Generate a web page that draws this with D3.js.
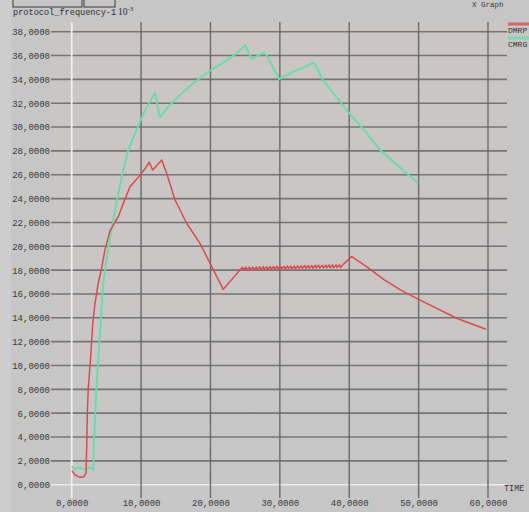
<!DOCTYPE html>
<html>
<head>
<meta charset="utf-8">
<script src="https://cdn.jsdelivr.net/npm/d3@7"></script>
<style>
  html, body { margin: 0; padding: 0; background: #c6c6c6; }
  svg { display: block; }
</style>
</head>
<body>
<svg id="chart" width="529" height="512"></svg>
<script>
// Series names and colours
const seriesNames = ["DMRP", "CMRG"];
const seriesColors = ["#de4a4a", "#66dda8"];

// Axis ticks (time on x, protocol frequency in units of 10^-3 on y)
const xTicks = [0, 10, 20, 30, 40, 50, 60];
const yTicks = [0, 2, 4, 6, 8, 10, 12, 14, 16, 18, 20, 22, 24, 26, 28, 30, 32, 34, 36, 38];

// DMRP: [time, frequency]
const dmrp = [
  [0.04, 1.17], [0.48, 0.81], [1.2, 0.62], [1.77, 0.67], [2.06, 0.98],
  [2.16, 3.19], [2.25, 6.0], [2.39, 8.1], [2.74, 10.74], [3.03, 13.54],
  [3.36, 15.2], [3.83, 16.9], [4.32, 18.2], [4.8, 19.7], [5.52, 21.3],
  [6.71, 22.48], [7.44, 23.6], [8.4, 25.0], [9.6, 25.8], [10.56, 26.5],
  [11.18, 27.05], [11.67, 26.4], [12.97, 27.24], [13.69, 26.12], [14.88, 23.9],
  [16.57, 21.93], [18.49, 20.25], [21.84, 16.39],
  [24.25, 18.00], [24.60, 18.24], [24.75, 18.01], [25.10, 18.25],
  [25.25, 18.02], [25.60, 18.26], [25.75, 18.02], [26.10, 18.26],
  [26.25, 18.03], [26.60, 18.27], [26.75, 18.04], [27.10, 18.28],
  [27.25, 18.05], [27.60, 18.29], [27.75, 18.05], [28.10, 18.29],
  [28.25, 18.06], [28.60, 18.30], [28.75, 18.07], [29.10, 18.31],
  [29.25, 18.08], [29.60, 18.32], [29.75, 18.08], [30.10, 18.32],
  [30.25, 18.09], [30.60, 18.33], [30.75, 18.10], [31.10, 18.34],
  [31.25, 18.11], [31.60, 18.35], [31.75, 18.11], [32.10, 18.35],
  [32.25, 18.12], [32.60, 18.36], [32.75, 18.13], [33.10, 18.37],
  [33.25, 18.14], [33.60, 18.38], [33.75, 18.14], [34.10, 18.38],
  [34.25, 18.15], [34.60, 18.39], [34.75, 18.16], [35.10, 18.40],
  [35.25, 18.17], [35.60, 18.41], [35.75, 18.17], [36.10, 18.41],
  [36.25, 18.18], [36.60, 18.42], [36.75, 18.19], [37.10, 18.43],
  [37.25, 18.20], [37.60, 18.44], [37.75, 18.20], [38.10, 18.44],
  [38.25, 18.21], [38.60, 18.45], [38.75, 18.22], [39.10, 18.46],
  [40.35, 19.13], [42.5, 18.3], [45.0, 17.2], [47.5, 16.3],
  [49.71, 15.63], [55.48, 13.96], [59.7, 13.04]
];

// CMRG: [time, frequency]
const cmrg = [
  [0.04, 1.55], [0.33, 1.29], [0.95, 1.46], [1.77, 1.29], [2.64, 1.46],
  [3.11, 1.23], [3.18, 3.2], [3.57, 8.2], [4.08, 12.7], [4.55, 16.9],
  [5.23, 19.7], [6.24, 23.0], [7.2, 25.8], [8.16, 28.1], [9.37, 29.8],
  [10.56, 31.4], [12.0, 32.9], [12.72, 30.8], [13.9, 31.7], [15.6, 32.7],
  [17.8, 33.8], [19.9, 34.7], [22.1, 35.5], [23.8, 36.2], [24.98, 36.89],
  [25.94, 35.69], [26.56, 35.9], [27.61, 36.24], [28.1, 36.05], [29.91, 34.01],
  [31.89, 34.64], [33.86, 35.12], [34.91, 35.4], [36.21, 33.95], [39.63, 31.43],
  [42.5, 29.5], [44.42, 28.08], [49.94, 25.28]
];

const svg = d3.select("#chart");
const fmt = v => d3.format(".4f")(v).replace(".", ",");

const x = d3.scaleLinear().domain([0, 60]).range([71.7, 488]);
const y = d3.scaleLinear().domain([0, 38]).range([484.7, 31.7]);

// background panels
svg.append("rect").attr("x", 0).attr("y", 0).attr("width", 529).attr("height", 512).attr("fill", "#c6c6c6");
svg.append("rect").attr("x", 0).attr("y", 0).attr("width", 11).attr("height", 512).attr("fill", "#cdcdcd");

const defs = svg.append("defs");
const grad = defs.append("linearGradient").attr("id", "plotTint").attr("x1", 0).attr("y1", 0).attr("x2", 0).attr("y2", 1);
grad.append("stop").attr("offset", "0%").attr("stop-color", "#cbc6c3");
grad.append("stop").attr("offset", "45%").attr("stop-color", "#c9c6c5");
grad.append("stop").attr("offset", "100%").attr("stop-color", "#c7c7c7");
svg.append("rect").attr("x", 52).attr("y", 22).attr("width", 455).attr("height", 476).attr("fill", "url(#plotTint)");

// header: partial tab frames and the y quantity label
const header = svg.append("g");
header.append("rect").attr("x", 13).attr("y", -6).attr("width", 69).attr("height", 13)
  .attr("fill", "none").attr("stroke", "#3a3a3a").attr("stroke-width", 1);
header.append("rect").attr("x", 84).attr("y", -6).attr("width", 31).attr("height", 13)
  .attr("fill", "none").attr("stroke", "#3a3a3a").attr("stroke-width", 1);
header.append("text").attr("x", 13).attr("y", 15)
  .attr("font-family", "Liberation Mono, DejaVu Sans Mono, monospace").attr("font-size", 8.6)
  .attr("fill", "#2e2e2e").text("protocol_frequency-1");
const exp = header.append("text").attr("x", 118).attr("y", 15)
  .attr("font-family", "Liberation Serif, DejaVu Serif, serif").attr("font-size", 9.5).attr("fill", "#2e2e2e");
exp.append("tspan").text("10");
exp.append("tspan").attr("dy", -4).attr("font-size", 7).text("-3");
svg.append("text").attr("x", 472).attr("y", 7)
  .attr("font-family", "Liberation Mono, DejaVu Sans Mono, monospace").attr("font-size", 7.5)
  .attr("fill", "#3a3a3a").text("X Graph");

// horizontal grid lines
const grid = svg.append("g");
grid.selectAll("line.h").data(yTicks).join("line")
  .attr("class", "h")
  .attr("x1", 51).attr("x2", 507)
  .attr("y1", d => y(d)).attr("y2", d => y(d))
  .attr("stroke", d => d === 0 ? "#ececec" : "#747474")
  .attr("stroke-width", 1.6);

// vertical grid lines
grid.selectAll("line.v").data(xTicks).join("line")
  .attr("class", "v")
  .attr("x1", d => x(d)).attr("x2", d => x(d))
  .attr("y1", 22).attr("y2", 498)
  .attr("stroke", d => d === 0 ? "#eeeeee" : "#6a6a6a")
  .attr("stroke-width", d => d === 0 ? 1.8 : 1.4);

// axis labels
const yAxis = d3.axisLeft(y).tickValues(yTicks).tickFormat(fmt).tickSize(0).tickPadding(0);
const gy = svg.append("g").attr("transform", "translate(50,0)").call(yAxis);
gy.select(".domain").remove();
gy.selectAll("text")
  .attr("font-family", "Liberation Mono, DejaVu Sans Mono, monospace")
  .attr("font-size", 9).attr("fill", "#3a3a3a").attr("dx", 0);

const xAxis = d3.axisBottom(x).tickValues(xTicks).tickFormat(fmt).tickSize(0).tickPadding(0);
const gx = svg.append("g").attr("transform", "translate(0,500)").call(xAxis);
gx.select(".domain").remove();
gx.selectAll("text")
  .attr("font-family", "Liberation Mono, DejaVu Sans Mono, monospace")
  .attr("font-size", 9).attr("fill", "#3a3a3a");

svg.append("text").attr("x", 504).attr("y", 491)
  .attr("font-family", "Liberation Mono, DejaVu Sans Mono, monospace").attr("font-size", 8.5)
  .attr("fill", "#3a3a3a").text("TIME");

// series lines
const line = d3.line().x(d => x(d[0])).y(d => y(d[1]));
svg.append("path").datum(cmrg).attr("d", line)
  .attr("fill", "none").attr("stroke", seriesColors[1]).attr("stroke-width", 1.9)
  .attr("stroke-linejoin", "round");
svg.append("path").datum(dmrp).attr("d", line)
  .attr("fill", "none").attr("stroke", seriesColors[0]).attr("stroke-width", 1.5)
  .attr("stroke-linejoin", "round");

// legend
const legend = svg.append("g");
seriesNames.forEach((name, i) => {
  const ly = 24 + i * 14;
  legend.append("rect").attr("x", 508).attr("y", ly - 1.5).attr("width", 21).attr("height", 3)
    .attr("fill", seriesColors[i]).attr("opacity", 0.8);
  legend.append("text").attr("x", 508).attr("y", ly + 9)
    .attr("font-family", "Liberation Mono, DejaVu Sans Mono, monospace").attr("font-size", 8)
    .attr("fill", "#333").text(name);
});
</script>
</body>
</html>
